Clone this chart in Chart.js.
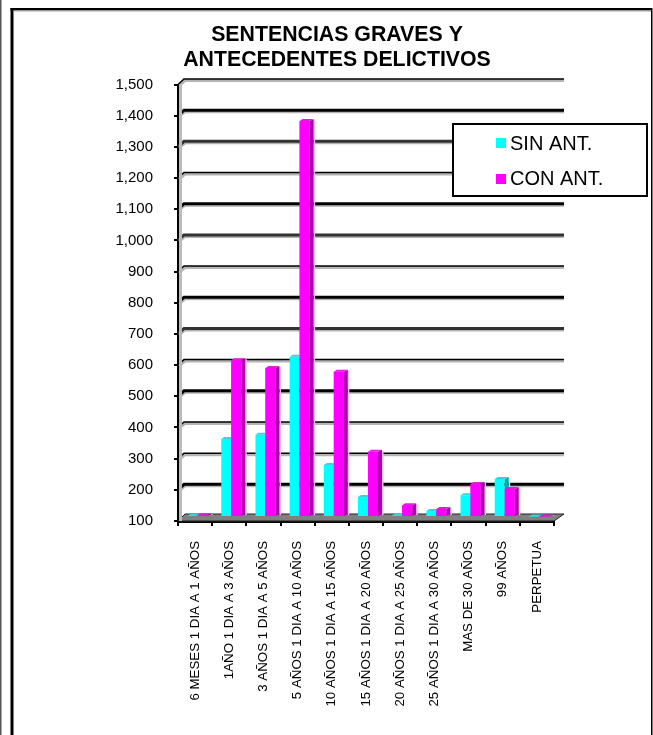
<!DOCTYPE html>
<html>
<head>
<meta charset="utf-8">
<style>
    body { margin: 0; background: #fff; }
    canvas { display: block; }
</style>
<script src="https://cdn.jsdelivr.net/npm/chart.js@4"></script>
</head>
<body>
<canvas id="sentenciasChart" width="653" height="735"></canvas>
<script>
const categories = ['6 MESES 1 DIA A 1 AÑOS', '1AÑO 1 DIA A 3 AÑOS', '3 AÑOS 1 DIA A 5 AÑOS', '5 AÑOS 1 DIA A 10 AÑOS',
    '10 AÑOS 1 DIA A 15 AÑOS', '15 AÑOS 1 DIA A 20 AÑOS', '20 AÑOS 1 DIA A 25 AÑOS', '25 AÑOS 1 DIA A 30 AÑOS',
    'MAS DE 30 AÑOS', '99 AÑOS', 'PERPETUA'];
const sinAnt = [103, 350, 364, 614, 267, 164, 106, 119, 170, 222, 102];
const conAnt = [106, 603, 578, 1370, 566, 309, 138, 126, 206, 190, 102];
const titleLines = ['SENTENCIAS GRAVES Y', 'ANTECEDENTES DELICTIVOS'];

// gridline look from 1,500 down to 200: a = thin + grey shadow, b = heavy black, c = heavy dark grey
const gridLook = 'abcabcabcabaab';

const FONT = '"Liberation Sans", Arial, sans-serif';

// side and top faces of one bar, drawn with the translate from the wall plugin still on
function drawFaces(ctx, bar, shades) {
    const right = bar.x + bar.width / 2;
    const left = bar.x - bar.width / 2;
    ctx.fillStyle = shades.edge;
    ctx.fillRect(right + 4, bar.y - 1, 1.5, bar.base - bar.y);
    ctx.fillStyle = shades.side;
    ctx.beginPath();
    ctx.moveTo(right, bar.y);
    ctx.lineTo(right + 4, bar.y - 2);
    ctx.lineTo(right + 4, bar.base - 2);
    ctx.lineTo(right, bar.base);
    ctx.closePath();
    ctx.fill();
    ctx.fillStyle = shades.top;
    ctx.beginPath();
    ctx.moveTo(left, bar.y);
    ctx.lineTo(left + 3, bar.y - 2);
    ctx.lineTo(right + 4, bar.y - 2);
    ctx.lineTo(right, bar.y);
    ctx.closePath();
    ctx.fill();
}

// frame around the chart, floor, back wall lines, 3d bars and legend box
const wallPlugin = {
    id: 'wall',
    afterLayout(chart) {
        // title is centred over the plot, not over the axis box
        chart.titleBlock.left = 120;
        chart.titleBlock.right = chart.chartArea.right;
    },
    beforeDatasetsDraw(chart) {
        const ctx = chart.ctx;
        const y = chart.scales.y;
        const area = chart.chartArea;
        ctx.save();

        // page frame
        ctx.fillStyle = '#555';
        ctx.fillRect(0, 0, 1.5, 735);
        ctx.fillStyle = '#000';
        ctx.fillRect(10.5, 8, 641, 2.5);
        ctx.fillRect(10.5, 8, 3, 727);
        ctx.fillRect(651, 8, 1.5, 727);
        ctx.fillStyle = '#aaa';
        ctx.fillRect(13.5, 10.5, 637.5, 1);

        // floor
        const floorY = y.getPixelForValue(100);
        ctx.beginPath();
        ctx.moveTo(area.left, floorY);
        ctx.lineTo(area.left + 7, floorY - 7);
        ctx.lineTo(564, floorY - 7);
        ctx.lineTo(area.right, floorY);
        ctx.closePath();
        ctx.fillStyle = '#808080';
        ctx.fill();
        ctx.strokeStyle = '#222';
        ctx.lineWidth = 1;
        ctx.stroke();

        // back wall lines with the short diagonal to the axis
        y.ticks.slice().reverse().forEach((tick, i) => {
            if (tick.value === 100) return;
            const py = y.getPixelForValue(tick.value);
            const back = py - 5.5;
            const look = gridLook[i];
            ctx.strokeStyle = '#b4b4b4';
            ctx.lineWidth = 3;
            ctx.beginPath();
            ctx.moveTo(area.left + 1, py + 1);
            ctx.lineTo(area.left + 7, back + 1.5);
            ctx.lineTo(564, back + 1.5);
            ctx.stroke();
            ctx.strokeStyle = look === 'c' ? '#333' : '#000';
            ctx.lineWidth = look === 'a' ? 1.5 : 3;
            ctx.beginPath();
            ctx.moveTo(area.left, py);
            ctx.lineTo(area.left + 6, back);
            ctx.lineTo(564, back);
            ctx.stroke();
        });

        // grey edge beside the axis
        ctx.fillStyle = '#bbb';
        ctx.fillRect(area.left + 1, area.top, 3, area.bottom - area.top);
        ctx.restore();

        // bars stand in the middle of the floor
        ctx.save();
        ctx.translate(2, -4);
    },
    afterDatasetsDraw(chart) {
        const ctx = chart.ctx;
        chart.getDatasetMeta(0).data.forEach(bar => {
            drawFaces(ctx, bar, { side: '#00a8a8', top: '#33d6d6', edge: '#c4f4f4' });
        });
        // magenta sits in front of the cyan side faces
        chart.getDatasetMeta(1).data.forEach(bar => {
            drawFaces(ctx, bar, { side: '#b000b0', top: '#d820d8', edge: '#f0c0f0' });
            bar.draw(ctx);
        });
        ctx.restore();
    },
    afterDraw(chart) {
        // legend box over the gridlines
        const ctx = chart.ctx;
        ctx.save();
        ctx.fillStyle = '#fff';
        ctx.fillRect(453, 124, 194, 72);
        ctx.strokeStyle = '#000';
        ctx.lineWidth = 2;
        ctx.strokeRect(453, 124, 194, 72);
        ctx.font = '20px ' + FONT;
        ctx.textBaseline = 'alphabetic';
        chart.data.datasets.forEach((ds, i) => {
            ctx.fillStyle = ds.backgroundColor;
            ctx.fillRect(496, 138 + i * 36, 10, 10);
            ctx.fillStyle = '#000';
            ctx.fillText(ds.label, 510, 150 + i * 35);
        });
        ctx.restore();
    }
};

new Chart(document.getElementById('sentenciasChart').getContext('2d'), {
    type: 'bar',
    plugins: [wallPlugin],
    data: {
        labels: categories,
        datasets: [
            { label: 'SIN ANT.', data: sinAnt, backgroundColor: '#00ffff', base: 100 },
            { label: 'CON ANT.', data: conAnt, backgroundColor: '#ff00ff', base: 100 }
        ]
    },
    options: {
        responsive: false,
        animation: false,
        layout: { padding: { left: 100, right: 99, top: 23, bottom: 0 } },
        datasets: { bar: { categoryPercentage: 0.585, barPercentage: 1 } },
        plugins: {
            legend: { display: false },
            tooltip: { enabled: false },
            title: {
                display: true,
                text: titleLines,
                color: '#000',
                font: { family: FONT, size: 21.3, weight: 'bold', lineHeight: 24.5 / 21.3 },
                padding: { top: 0, bottom: 12.5 }
            }
        },
        scales: {
            x: {
                afterFit(scale) { scale.height = 214; },
                grid: { drawOnChartArea: false, color: '#000', lineWidth: 2, tickLength: 5 },
                border: { color: '#000', width: 3 },
                ticks: {
                    autoSkip: false,
                    minRotation: 90,
                    maxRotation: 90,
                    padding: 15,
                    color: '#000',
                    font: { family: FONT, size: 13.3 }
                }
            },
            y: {
                min: 100,
                max: 1500,
                afterFit(scale) { scale.width = 78; },
                grid: { drawOnChartArea: false, color: '#000', lineWidth: 2, tickLength: 4 },
                border: { color: '#000', width: 2 },
                ticks: {
                    stepSize: 100,
                    padding: 21,
                    color: '#000',
                    font: { family: FONT, size: 15 },
                    callback: value => value.toLocaleString('en-US')
                }
            }
        }
    }
});
</script>
</body>
</html>
